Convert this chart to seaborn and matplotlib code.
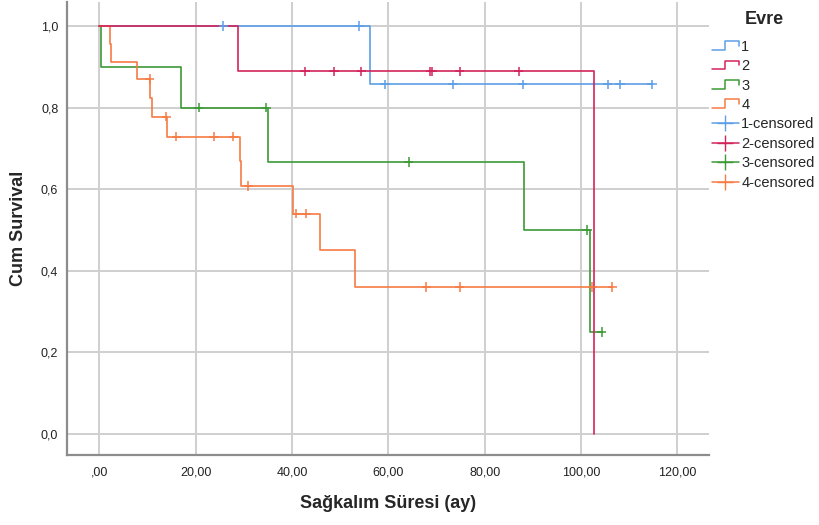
import numpy as np
import pandas as pd
import matplotlib
matplotlib.use('Agg')
import matplotlib.pyplot as plt
import seaborn as sns
from matplotlib.legend_handler import HandlerBase
from matplotlib.lines import Line2D

# Kaplan-Meier steps (time in months, cum survival)
g1_times = [0, 56.1]
g1_surv = [1.0, 0.857]
g1_end = 114.7
g1_cens = [25.7, 53.9, 59.3, 73.3, 87.9, 105.5, 108.1, 114.7]

g2_times = [0, 28.7, 102.7]
g2_surv = [1.0, 0.889, 0.0]
g2_end = 102.7
g2_cens = [42.7, 48.7, 54.4, 68.7, 69.1, 74.8, 87.0]

g3_times = [0, 0.4, 16.9, 34.9, 88.2, 101.9]
g3_surv = [1.0, 0.9, 0.8, 0.667, 0.5, 0.25]
g3_end = 104.3
g3_cens = [20.6, 34.6, 64.2, 101.2, 104.3]

g4_times = [0, 2.2, 2.4, 7.9, 10.5, 10.9, 14.1, 29.1, 29.3, 40.1, 45.7, 53.0]
g4_surv = [1.0, 0.957, 0.913, 0.870, 0.824, 0.778, 0.729, 0.668, 0.608, 0.540, 0.450, 0.360]
g4_end = 106.5
g4_cens = [10.4, 13.9, 16.0, 23.8, 27.8, 30.9, 40.9, 42.9, 67.9, 74.8, 102.3, 106.5]

groups = ['1', '2', '3', '4']
colors = {'1': '#5C9FE6', '2': '#D3245A', '3': '#3C9A36', '4': '#F67B45'}

x_ticks = [0, 20, 40, 60, 80, 100, 120]
x_labels = [',00', '20,00', '40,00', '60,00', '80,00', '100,00', '120,00']
y_ticks = [0.0, 0.2, 0.4, 0.6, 0.8, 1.0]
y_labels = ['0,0', '0,2', '0,4', '0,6', '0,8', '1,0']

data = {
    '1': (g1_times, g1_surv, g1_end, g1_cens),
    '2': (g2_times, g2_surv, g2_end, g2_cens),
    '3': (g3_times, g3_surv, g3_end, g3_cens),
    '4': (g4_times, g4_surv, g4_end, g4_cens),
}

line_rows = []
cens_rows = []
for g, (t, s, end, cens) in data.items():
    for ti, si in zip(t, s):
        line_rows.append((g, ti, si))
    line_rows.append((g, end, s[-1]))
    for c in cens:
        idx = np.searchsorted(t, c, side='right') - 1
        cens_rows.append((g, c, s[idx]))
lines_df = pd.DataFrame(line_rows, columns=['Evre', 't', 's'])
cens_df = pd.DataFrame(cens_rows, columns=['Evre', 't', 's'])

sns.set_theme(style='white')
plt.rcParams['font.family'] = ['Liberation Sans', 'DejaVu Sans']

fig = plt.figure(figsize=(8.19, 5.25), dpi=100)
ax = fig.add_axes([0.0814, 0.1333, 0.7846, 0.862])

order = ['1', '3', '4', '2']
sns.lineplot(data=lines_df, x='t', y='s', hue='Evre', hue_order=order,
             palette=colors, drawstyle='steps-post', estimator=None,
             sort=False, linewidth=1.2, legend=False, ax=ax, zorder=3)
sns.scatterplot(data=cens_df, x='t', y='s', hue='Evre', hue_order=order,
                palette=colors, marker='+', s=45, linewidth=1.1,
                legend=False, ax=ax, zorder=4)

ax.set_xlim(-6.8, 126.6)
ax.set_ylim(-0.052, 1.058)
ax.set_xticks(x_ticks)
ax.set_xticklabels(x_labels)
ax.set_yticks(y_ticks)
ax.set_yticklabels(y_labels)
ax.tick_params(length=0, labelsize=9, colors='#222222')
ax.tick_params(axis='x', pad=8)
ax.tick_params(axis='y', pad=6)
ax.grid(True, color='#cfcfcf', linewidth=1.4)
ax.set_axisbelow(True)
for side in ['top', 'right']:
    ax.spines[side].set_visible(False)
for side in ['left', 'bottom']:
    ax.spines[side].set_color('#8c8c8c')
    ax.spines[side].set_linewidth(1.6)

ax.set_xlabel('Sağkalım Süresi (ay)', fontsize=13, fontweight='bold', labelpad=12)
ax.set_ylabel('Cum Survival', fontsize=13, fontweight='bold', labelpad=10)


class StepLine(Line2D):
    pass


class StepHandler(HandlerBase):
    def create_artists(self, legend, orig_handle, xdescent, ydescent,
                       width, height, fontsize, trans):
        xs = np.array([0, 0.5, 0.5, 1.0, 1.0]) * width - xdescent
        ys = np.array([0.1, 0.1, 0.95, 0.95, 0.5]) * height - ydescent
        ln = Line2D(xs, ys, color=orig_handle.get_color(), lw=1.1, transform=trans)
        return [ln]


handles = [StepLine([], [], color=colors[g]) for g in groups]
handles += [Line2D([], [], color=colors[g], marker='+', markersize=12, lw=1.1)
            for g in groups]
labels = groups + [g + '-censored' for g in groups]

fig.text(764 / 819, 1 - 19 / 525, 'Evre', ha='center', va='center',
         fontsize=13, fontweight='bold')
leg = fig.legend(handles, labels, loc='upper left', bbox_to_anchor=(712 / 819, 0.924),
                 frameon=False, fontsize=10.5, handlelength=1.85, borderpad=0,
                 borderaxespad=0, handletextpad=0.15, labelspacing=0.37,
                 handler_map={StepLine: StepHandler()})

fig.savefig('out.png', dpi=100)
